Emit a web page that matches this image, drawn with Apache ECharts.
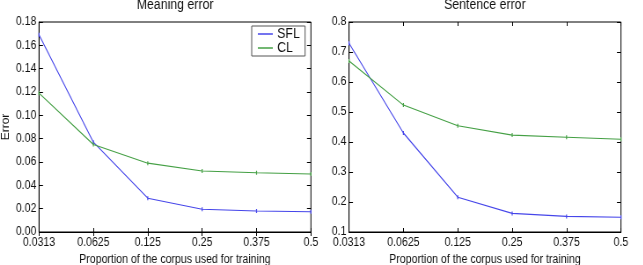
<!DOCTYPE html>
<html>
<head>
<meta charset="utf-8">
<script src="https://cdn.jsdelivr.net/npm/echarts@6/dist/echarts.min.js"></script>
<style>
  html, body { margin: 0; padding: 0; background: #fff; overflow: hidden; width: 643px; height: 265px; }
  /* the source figure is slightly squeezed horizontally, so draw wider and scale back */
  #main { width: 731px; height: 265px; transform: scaleX(0.88); transform-origin: 0 0; }
</style>
</head>
<body>
<div id="main"></div>
<script>
// proportions of the corpus (x axis, evenly spaced)
var categories = ['0.0313', '0.0625', '0.125', '0.25', '0.375', '0.5'];

// meaning error
var meaningSFL = [0.169, 0.077, 0.029, 0.0195, 0.018, 0.0174];
var meaningCL = [0.119, 0.075, 0.059, 0.0523, 0.0508, 0.0497];

// sentence error
var sentenceSFL = [0.729, 0.43, 0.216, 0.162, 0.152, 0.149];
var sentenceCL = [0.67, 0.523, 0.454, 0.423, 0.416, 0.409];

var blue = '#4646ea';
var green = '#45a045';
var font = '"Liberation Sans", Arial, sans-serif';

var myChart = echarts.init(document.getElementById('main'));

function xAx(grid, top) {
    return {
        type: 'category', gridIndex: grid, data: categories, boundaryGap: false,
        position: top ? 'top' : 'bottom',
        axisLine: { show: !top, lineStyle: { color: '#000', width: 1 } },
        axisTick: { inside: true, length: 4, lineStyle: { color: '#000' } },
        axisLabel: {
            show: !top, color: '#111', fontSize: 12, fontFamily: font, margin: 5,
            alignMinLabel: 'center', alignMaxLabel: 'center', hideOverlap: false
        },
        name: top ? '' : 'Proportion of the corpus used for training',
        nameLocation: 'middle', nameGap: 21,
        nameTextStyle: { color: '#111', fontSize: 12, fontFamily: font },
        splitLine: { show: false }
    };
}

function yAx(grid, right, min, max, step, digits, name) {
    return {
        type: 'value', gridIndex: grid, min: min, max: max, interval: step,
        position: right ? 'right' : 'left',
        axisLine: { show: !right, lineStyle: { color: '#000', width: 1 } },
        axisTick: { show: true, inside: true, length: 4.5, lineStyle: { color: '#000' } },
        axisLabel: {
            show: !right, color: '#111', fontSize: 12, fontFamily: font, margin: 3,
            formatter: function (v) { return v.toFixed(digits); }
        },
        name: right ? '' : name, nameLocation: 'middle', nameGap: 32,
        nameTextStyle: { color: '#111', fontSize: 12, fontFamily: font },
        splitLine: { show: false }
    };
}

function line(name, data, color, xi, yi) {
    return {
        name: name, type: 'line', data: data, xAxisIndex: xi, yAxisIndex: yi,
        symbol: 'rect', symbolSize: [1.2, 4], showSymbol: true,
        itemStyle: { color: color },
        lineStyle: { color: color, width: 1.1 },
        emphasis: { disabled: true }, animation: false
    };
}

var titleStyle = { fontSize: 14, fontWeight: 'normal', color: '#111', fontFamily: font };

var option = {
    backgroundColor: '#fff',
    animation: false,
    title: [
        { text: 'Meaning error', left: 199, top: -2, padding: 0, textAlign: 'center', textStyle: titleStyle },
        { text: 'Sentence error', left: 551, top: -2, padding: 0, textAlign: 'center', textStyle: titleStyle }
    ],
    legend: {
        data: ['SFL', 'CL'], orient: 'vertical', left: 286, top: 26,
        icon: 'rect', itemWidth: 17, itemHeight: 1.5, itemGap: 0,
        padding: [1, 6, 1, 7],
        borderColor: '#555', borderWidth: 1, backgroundColor: '#fff',
        textStyle: { fontSize: 14, fontFamily: font, color: '#111', lineHeight: 14 }
    },
    grid: [
        { left: 44.3, top: 22, width: 309, height: 210, outerBoundsMode: 'none', show: true, borderColor: '#000', borderWidth: 1, backgroundColor: 'transparent' },
        { left: 396.6, top: 22, width: 309, height: 210, outerBoundsMode: 'none', show: true, borderColor: '#000', borderWidth: 1, backgroundColor: 'transparent' }
    ],
    xAxis: [xAx(0, false), xAx(0, true), xAx(1, false), xAx(1, true)],
    yAxis: [
        yAx(0, false, 0, 0.18, 0.02, 2, 'Error'),
        yAx(0, true, 0, 0.18, 0.02, 2, ''),
        yAx(1, false, 0.1, 0.8, 0.1, 1, ''),
        yAx(1, true, 0.1, 0.8, 0.1, 1, '')
    ],
    series: [
        line('SFL', meaningSFL, blue, 0, 0),
        line('CL', meaningCL, green, 0, 0),
        line('SFL', sentenceSFL, blue, 2, 2),
        line('CL', sentenceCL, green, 2, 2)
    ]
};

myChart.setOption(option);
</script>
</body>
</html>
